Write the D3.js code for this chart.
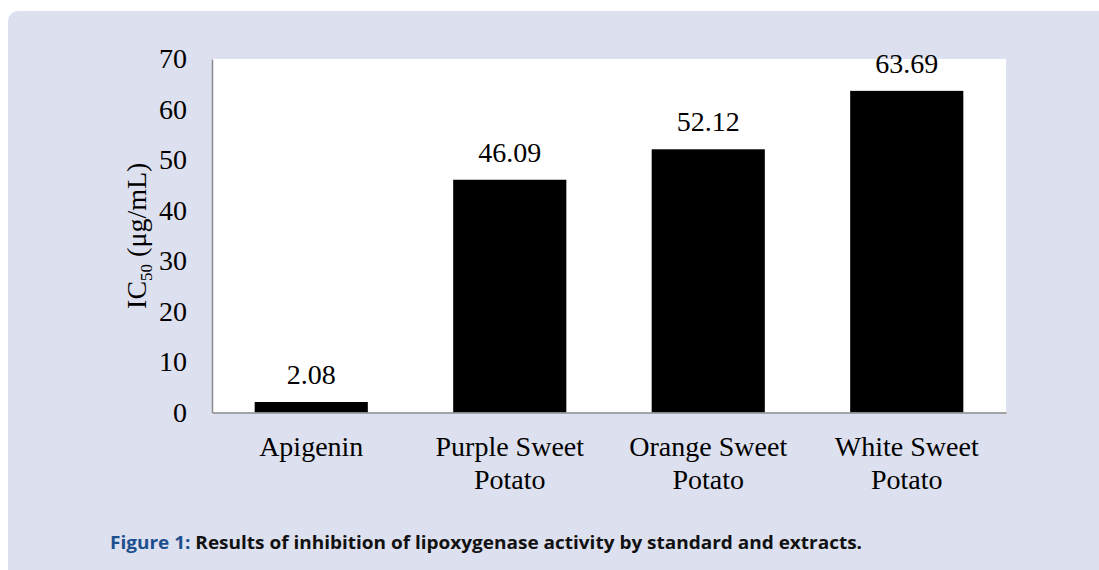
<!DOCTYPE html>
<html>
<head>
<meta charset="utf-8">
<script src="https://cdn.jsdelivr.net/npm/d3@7"></script>
<style>
  html, body { margin: 0; padding: 0; background: #fff; }
  #canvas { width: 1099px; height: 570px; }
  .serif { font-family: 'Liberation Serif', 'Times New Roman', Times, serif; }
</style>
</head>
<body>
<div id="canvas" class="canvas"></div>
<script>
// data
var categories = [['Apigenin'], ['Purple Sweet', 'Potato'], ['Orange Sweet', 'Potato'], ['White Sweet', 'Potato']];
var values = [2.08, 46.09, 52.12, 63.69];
var yTicks = [0, 10, 20, 30, 40, 50, 60, 70];

var outerWidth = 1099, outerHeight = 570;
var m = {t: 59, r: 93, b: 157.5, l: 212};
var w = outerWidth - m.l - m.r,
    h = outerHeight - m.t - m.b;

var svg = d3.select('.canvas')
  .append('svg')
  .attr('width', outerWidth)
  .attr('height', outerHeight);

// lavender panel
svg.append('rect')
  .attr('x', 8).attr('y', 11)
  .attr('width', outerWidth + 20).attr('height', outerHeight + 20)
  .attr('rx', 10)
  .style('fill', '#dde0ee');

var plot = svg.append('g')
  .attr('transform', 'translate(' + m.l + ',' + m.t + ')');

plot.append('rect')
  .attr('width', w).attr('height', h)
  .style('fill', '#fff');

var keys = categories.map(function(d) { return d.join(' '); });

var scaleX = d3.scaleBand()
  .domain(keys)
  .range([0, w])
  .paddingInner(0.43)
  .paddingOuter(0.215);

var scaleY = d3.scaleLinear()
  .domain([0, 70])
  .range([h, 0]);

plot.selectAll('rect.bar')
  .data(values)
  .enter()
  .append('rect')
  .attr('class', 'bar')
  .attr('x', function(d, i) { return scaleX(keys[i]); })
  .attr('y', function(d) { return scaleY(d); })
  .attr('width', scaleX.bandwidth())
  .attr('height', function(d) { return h - scaleY(d); })
  .style('fill', '#000');

plot.selectAll('text.val')
  .data(values)
  .enter()
  .append('text')
  .attr('class', 'val serif')
  .attr('x', function(d, i) { return scaleX(keys[i]) + scaleX.bandwidth() / 2; })
  .attr('y', function(d) { return scaleY(d) - 18; })
  .attr('text-anchor', 'middle')
  .attr('font-size', 28)
  .text(function(d) { return d.toFixed(2); });

// axes
var axisY = d3.axisLeft(scaleY)
  .tickValues(yTicks)
  .tickSize(0)
  .tickPadding(25);

var gy = plot.append('g').attr('class', 'axis axis-y').call(axisY)
  .attr('font-family', null).attr('font-size', null);
gy.select('.domain').attr('stroke', '#8c8c8c').attr('stroke-width', 1.5);
gy.selectAll('text')
  .attr('class', 'serif')
  .attr('font-size', 28)
  .attr('fill', '#000');

var axisX = d3.axisBottom(scaleX).tickSize(0).tickFormat('');
var gx = plot.append('g').attr('class', 'axis axis-x')
  .attr('transform', 'translate(0,' + h + ')')
  .call(axisX);
gx.select('.domain').attr('stroke', '#8c8c8c').attr('stroke-width', 1.5);

// category labels (two lines)
var lab = plot.selectAll('text.cat')
  .data(categories)
  .enter()
  .append('text')
  .attr('class', 'cat serif')
  .attr('text-anchor', 'middle')
  .attr('x', function(d, i) { return scaleX(keys[i]) + scaleX.bandwidth() / 2; })
  .attr('y', h + 43)
  .attr('font-size', 28);

lab.selectAll('tspan')
  .data(function(d) { return d; })
  .enter()
  .append('tspan')
  .attr('x', function() { return d3.select(this.parentNode).attr('x'); })
  .attr('dy', function(d, i) { return i === 0 ? 0 : 33; })
  .text(function(d) { return d; });

// y title
var yt = svg.append('text')
  .attr('class', 'serif')
  .attr('transform', 'translate(146,' + (m.t + h / 2) + ') rotate(-90)')
  .attr('text-anchor', 'middle')
  .attr('font-size', 28);
yt.append('tspan').text('IC');
yt.append('tspan').attr('dy', 6).attr('font-size', 17).text('50');
yt.append('tspan').attr('dy', -6).text(' (\u03bcg/mL)');

// caption
var cap = svg.append('text')
  .attr('x', 110).attr('y', 549)
  .style('font-family', '"Open Sans", sans-serif')
  .style('font-weight', 'bold')
  .style('font-size', '18px')
  .attr('textLength', 752)
  .attr('lengthAdjust', 'spacingAndGlyphs');
cap.append('tspan').style('fill', '#1d4f8f').text('Figure 1: ');
cap.append('tspan').style('fill', '#111').text('Results of inhibition of lipoxygenase activity by standard and extracts.');
</script>
</body>
</html>
